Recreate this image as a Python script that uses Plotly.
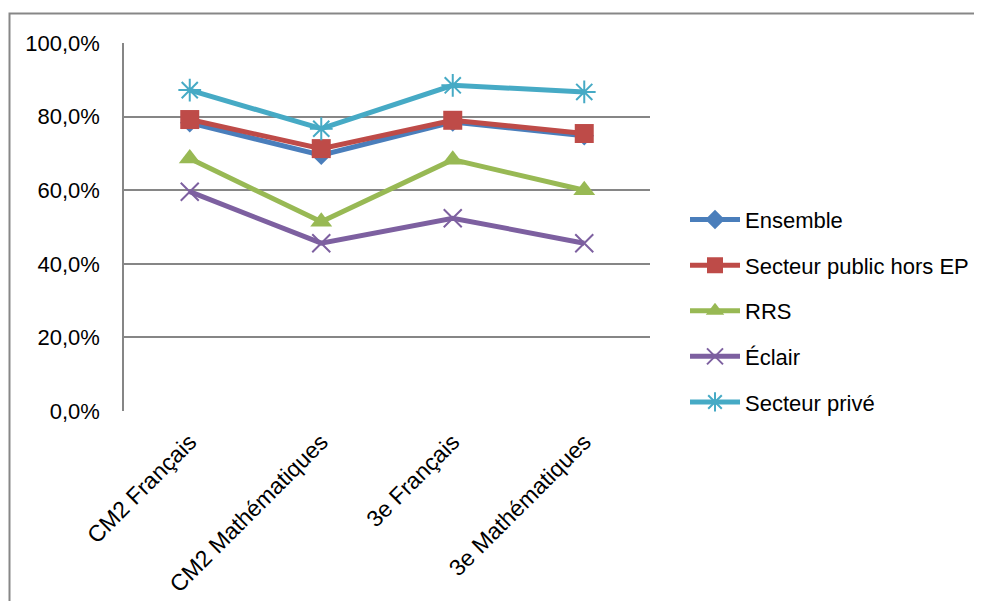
import plotly.graph_objects as go

categories = ["CM2 Français", "CM2 Mathématiques", "3e Français", "3e Mathématiques"]
series_names = ["Ensemble", "Secteur public hors EP", "RRS", "Éclair", "Secteur privé"]
ensemble = [0.783, 0.695, 0.785, 0.748]
public_hors_ep = [0.792, 0.713, 0.790, 0.754]
rrs = [0.686, 0.514, 0.683, 0.600]
eclair = [0.596, 0.456, 0.524, 0.456]
prive = [0.872, 0.767, 0.885, 0.867]
y_ticks = [0, 0.2, 0.4, 0.6, 0.8, 1.0]

values = [ensemble, public_hors_ep, rrs, eclair, prive]
colors = ["#4A7EBB", "#BE4B48", "#98B954", "#7D60A0", "#46AAC5"]
symbols = ["diamond", "square", "triangle-up", "x-thin-open", "asterisk-open"]
sizes = [15, 19, 19, 18, 19]

OFF = 8  # default body margin of the html page
W, H = 982 - OFF, 601 - OFF
L, R, T, B = 124 - OFF, 650 - OFF, 42.5 - OFF, 411.5 - OFF

fig = go.Figure()
for name, vals, col, sym, sz in zip(series_names, values, colors, symbols, sizes):
    fig.add_trace(go.Scatter(
        x=categories, y=vals, name=name, mode="lines+markers",
        line=dict(color=col, width=5),
        marker=dict(symbol=sym, size=sz, color=col,
                    line=dict(color=col, width=2 if "open" in sym else 0)),
        legendgroup=name,
    ))

font = "Liberation Sans, Arial, sans-serif"
pw = R - L
ph = B - T
fig.update_layout(
    width=W, height=H,
    margin=dict(l=L, r=W - R, t=T, b=H - B, pad=0, autoexpand=False),
    paper_bgcolor="white", plot_bgcolor="white",
    separators=", ",
    font=dict(family=font, size=22, color="black"),
    showlegend=True,
    legend=dict(
        x=(685 - OFF - L) / pw, xanchor="left",
        y=(B - (311 - OFF)) / ph, yanchor="middle",
        font=dict(size=22, color="black"),
        tracegroupgap=14, itemwidth=50,
        bgcolor="rgba(0,0,0,0)",
    ),
    xaxis=dict(
        type="category", range=[-0.5, 3.5],
        showgrid=False, zeroline=False,
        showline=False, automargin=False,
        tickangle=-45, tickfont=dict(size=23),
        ticks="", ticklen=0, ticklabelstandoff=12,
    ),
    yaxis=dict(
        range=[0, 1], tickvals=y_ticks, tickformat=".1%",
        showgrid=True, gridcolor="#868686", gridwidth=1.5,
        zeroline=False, automargin=False,
        showline=True, linecolor="#868686", linewidth=1.5,
        ticks="", ticklabelstandoff=18,
        tickfont=dict(size=22),
    ),
    shapes=[
        dict(type="rect", xref="paper", yref="paper",
             x0=(9.5 - OFF - L) / pw, x1=(1100 - L) / pw,
             y0=(B - 700) / ph, y1=(B - (13 - OFF)) / ph,
             line=dict(color="#878787", width=2), fillcolor="rgba(0,0,0,0)", layer="below"),
    ],
)
fig.write_html("out.html")
